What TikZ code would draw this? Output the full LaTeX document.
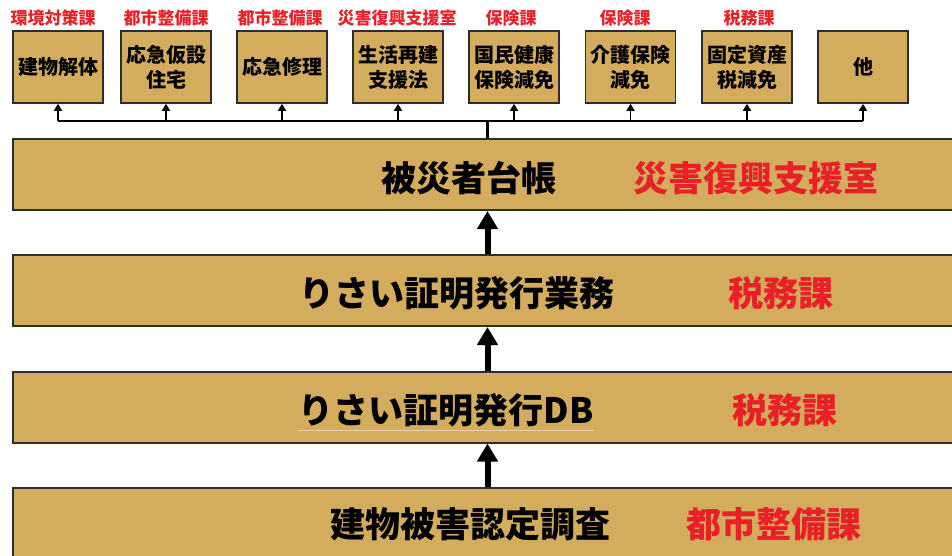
\documentclass[tikz,border=0pt]{standalone}
\usepackage{fontspec}
\newfontfamily\cjk{Noto Sans CJK JP}[BoldFont={Noto Sans CJK JP Black}]
\usetikzlibrary{arrows.meta}
\definecolor{tan}{RGB}{212,172,94}
\definecolor{deptred}{RGB}{232,32,40}
\definecolor{edge}{RGB}{45,45,45}
\tikzset{
  smallbox/.style={draw=edge, line width=1.6pt, fill=tan, minimum width=90pt, minimum height=72pt, inner sep=0pt,
    align=center, font=\cjk\bfseries\fontsize{20}{25}\selectfont},
  biglayer/.style={draw=edge, line width=2pt, fill=tan, minimum width=949pt, minimum height=71pt, inner sep=0pt},
  deptlabel/.style={text=deptred, inner sep=0pt, font=\cjk\bfseries\fontsize{17}{17}\selectfont},
  bigtext/.style={inner sep=0pt, font=\cjk\bfseries\fontsize{35}{35}\selectfont},
  bigdept/.style={bigtext, text=deptred},
  smallarrow/.style={line width=1.5pt, -{Triangle[width=8pt,length=7pt]}},
  bigarrow/.style={line width=6pt, -{Triangle[width=20pt,length=18pt]}}
}
\begin{document}
\begin{tikzpicture}[x=1pt,y=-1pt]
\useasboundingbox (0,0) rectangle (952,556);
\clip (0,0) rectangle (952,556);
% small boxes
\node[smallbox] (s1) at (58,67) {建物解体};
\node[smallbox] (s2) at (166,67) {応急仮設\\住宅};
\node[smallbox] (s3) at (282,67) {応急修理};
\node[smallbox] (s4) at (398,67) {生活再建\\支援法};
\node[smallbox] (s5) at (514,67) {国民健康\\保険減免};
\node[smallbox] (s6) at (630.5,67) {介護保険\\減免};
\node[smallbox] (s7) at (747,67) {固定資産\\税減免};
\node[smallbox] (s8) at (863,67) {他};
% department labels
\node[deptlabel] (d1) at (53,18) {環境対策課};
\node[deptlabel] (d2) at (166,18) {都市整備課};
\node[deptlabel] (d3) at (280,18) {都市整備課};
\node[deptlabel] (d4) at (397,18) {災害復興支援室};
\node[deptlabel] (d5) at (511,18) {保険課};
\node[deptlabel] (d6) at (625,18) {保険課};
\node[deptlabel] (d7) at (749,18) {税務課};
% big layers
\node[biglayer] (b1) at (487.5,174.5) {};
\node[biglayer] (b2) at (487.5,290.5) {};
\node[biglayer] (b3) at (487.5,407) {};
\node[biglayer] (b4) at (487.5,523.5) {};
\node[bigtext] (t1) at (469,178) {被災者台帳};
\node[bigdept] (r1) at (756,178) {災害復興支援室};
\node[bigtext] (t2) at (457,293) {りさい証明発行業務};
\node[bigdept] (r2) at (781,293) {税務課};
\node[bigtext] (t3) at (446,410) {りさい証明発行DB};
\node[bigdept] (r3) at (785,410) {税務課};
\node[bigtext] (t4) at (470,524) {建物被害認定調査};
\node[bigdept] (r4) at (774,524) {都市整備課};
\draw[line width=0.8pt, color={rgb,255:red,232;green,212;blue,170}] ([yshift=-3pt]t3.south west) -- ([yshift=-3pt]t3.south east);
% distribution bus
\coordinate (hub) at (487.5,121);
\draw[line width=2pt] (s1.south |- hub) -- (s8.south |- hub);
\draw[line width=3pt] (b1.north) -- (hub);
\foreach \i in {1,...,8}{
  \draw[smallarrow] (s\i.south |- hub) -- (s\i.south);
}
% vertical flow
\draw[bigarrow] (b2.north) -- (b1.south);
\draw[bigarrow] (b3.north) -- (b2.south);
\draw[bigarrow] (b4.north) -- (b3.south);
\end{tikzpicture}
\end{document}
